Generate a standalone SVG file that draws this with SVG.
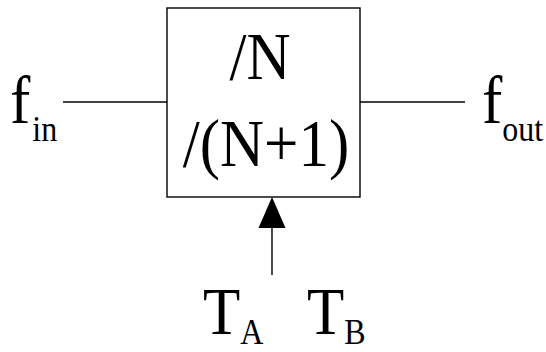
<svg xmlns="http://www.w3.org/2000/svg" width="546" height="352" viewBox="0 0 546 352">
<style>
.t{font-family:"Liberation Serif","Times New Roman",serif;fill:#000}
.big{font-size:61px}
.sub{font-size:32px}
.ln{stroke:#000;stroke-width:1.4;fill:none}
</style>
<rect width="546" height="352" fill="#fff"/>
<g id="connectors">
<line class="ln" x1="63" y1="102" x2="167" y2="102"/>
<line class="ln" x1="360" y1="102" x2="465" y2="102"/>
<line class="ln" x1="272" y1="275" x2="272" y2="226"/>
<path d="M258.5,228 L272,197 L285.5,228 Z" fill="#000"/>
</g>
<g id="divider">
<rect class="ln" x="167" y="8" width="193" height="189"/>
<g transform="translate(260,79) scale(1,1.1)"><text class="t big" x="0" y="0" text-anchor="middle">/N</text></g>
<g transform="translate(266,166) scale(1,1.1)"><text class="t big" x="0" y="0" text-anchor="middle">/(N+1)</text></g>
</g>
<g id="fin" transform="translate(10,123) scale(1,1.1)">
<text class="t" x="0" y="0"><tspan class="big">f</tspan><tspan class="sub" dx="2" dy="16">in</tspan></text>
</g>
<g id="fout" transform="translate(482,123) scale(1,1.1)">
<text class="t" x="0" y="0"><tspan class="big">f</tspan><tspan class="sub" dy="16">out</tspan></text>
</g>
<g id="ta" transform="translate(203,334) scale(1,1.1)">
<text class="t" x="0" y="0"><tspan class="big">T</tspan><tspan class="sub" dy="9">A</tspan></text>
</g>
<g id="tb" transform="translate(307,334) scale(1,1.1)">
<text class="t" x="0" y="0"><tspan class="big">T</tspan><tspan class="sub" dy="9">B</tspan></text>
</g>
</svg>
